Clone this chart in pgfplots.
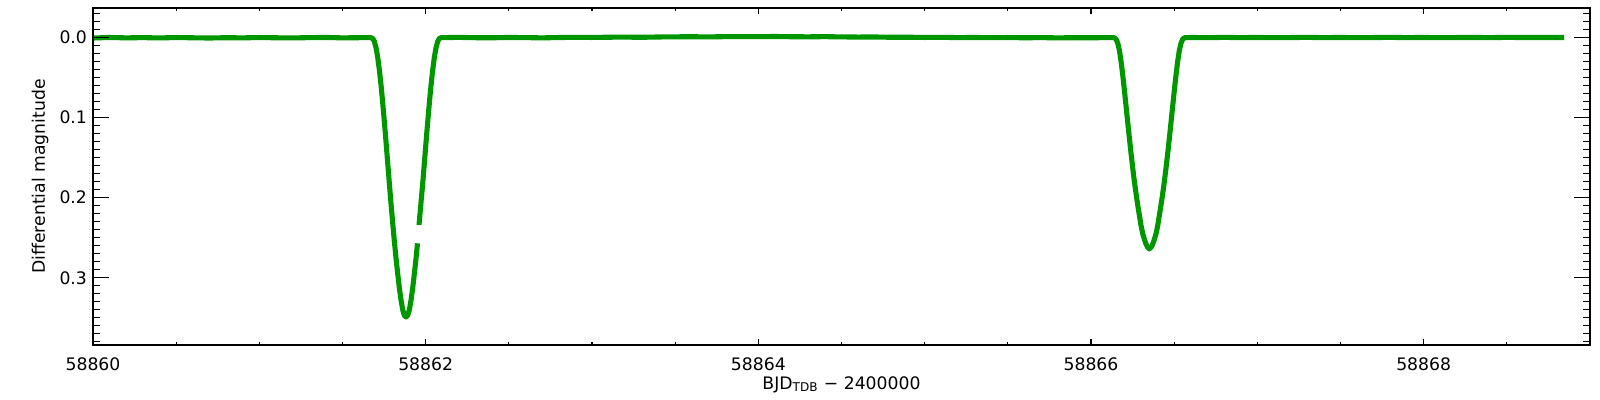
\documentclass[border=0pt]{standalone}
\usepackage{pgfplots}
\pgfplotsset{compat=1.18}
\usepackage{fontspec}
\setmainfont{DejaVu Sans}
\definecolor{lcgreen}{RGB}{0,150,0}
\begin{document}
\fontsize{9.8}{11.5}\selectfont
\begin{tikzpicture}
\useasboundingbox (-1.86cm,-1.1cm) rectangle (30.14cm,6.9cm);
\begin{axis}[
  at={(0,0)}, anchor=south west,
  scale only axis, width=29.94cm, height=6.74cm,
  xmin=0, xmax=9, ymin=-0.037, ymax=0.384,
  y dir=reverse,
  axis line style={line width=0.6pt},
  tick align=inside,
  every tick/.style={black, line width=0.6pt},
  xtick={0,2,4,6,8},
  xticklabels={58860,58862,58864,58866,58868},
  minor xtick={0.5,1,1.5,2.5,3,3.5,4.5,5,5.5,6.5,7,7.5,8.5},
  major tick length=0.12cm, minor tick length=0.06cm,
  ytick={0,0.1,0.2,0.3},
  ytick style={draw=none},
  yticklabel style={/pgf/number format/.cd, fixed, fixed zerofill, precision=1},
  /pgf/number format/assume math mode=true,
  xticklabel style={yshift=-3.5pt},
  tick label style={font=\fontsize{9.8}{11.5}\selectfont},
  xlabel={BJD\textsubscript{TDB} − 2400000},
  ylabel={Differential magnitude},
  xlabel style={at={(axis description cs:0.5,-0.1306)}, anchor=base, font=\fontsize{9.8}{11.5}\selectfont},
  ylabel style={at={(axis description cs:-0.0354,0.5)}, anchor=center, rotate=0, font=\fontsize{9.8}{11.5}\selectfont},
]
\addplot[lcgreen, line width=2.9pt, line join=round] coordinates {
(0.000,0.0005)(0.100,-0.0002)(0.200,0.0003)(0.300,0.0000)(0.400,0.0004)(0.500,-0.0001)(0.600,0.0002)(0.700,0.0005)(0.800,0.0001)(0.900,0.0003)(1.000,-0.0001)(1.100,0.0002)(1.200,0.0004)(1.300,0.0000)(1.400,-0.0002)(1.500,0.0003)(1.600,0.0001)(1.662,0.0000)(1.672,0.0002)(1.682,0.001)(1.692,0.005)(1.702,0.013)(1.712,0.025)(1.722,0.041)(1.732,0.060)(1.742,0.082)(1.752,0.106)(1.762,0.131)(1.772,0.157)(1.782,0.183)(1.792,0.208)(1.802,0.232)(1.812,0.255)(1.822,0.276)(1.832,0.295)(1.842,0.313)(1.852,0.328)(1.862,0.340)(1.872,0.347)(1.882,0.349)(1.892,0.347)(1.902,0.340)(1.912,0.328)(1.922,0.313)(1.932,0.295)(1.942,0.276)(1.951,0.257)
};
\addplot[lcgreen, line width=2.9pt, line join=round] coordinates {
(1.960,0.234)(1.972,0.206)(1.982,0.183)(1.992,0.157)(2.002,0.131)(2.012,0.106)(2.022,0.082)(2.032,0.060)(2.042,0.041)(2.052,0.025)(2.062,0.013)(2.072,0.005)(2.082,0.001)(2.092,0.0002)(2.102,0.0000)(2.200,-0.0003)(2.300,0.0001)(2.400,0.0002)(2.500,-0.0002)(2.600,0.0000)(2.700,0.0003)(2.800,-0.0001)(2.900,-0.0004)(3.000,-0.0002)(3.100,-0.0005)(3.200,-0.0006)(3.300,-0.0004)(3.400,-0.0008)(3.500,-0.0010)(3.600,-0.0011)(3.700,-0.0009)(3.800,-0.0012)(3.900,-0.0013)(4.000,-0.0012)(4.100,-0.0014)(4.200,-0.0011)(4.300,-0.0010)(4.400,-0.0012)(4.500,-0.0009)(4.600,-0.0007)(4.700,-0.0008)(4.800,-0.0004)(4.900,-0.0005)(5.000,-0.0002)(5.100,-0.0004)(5.200,0.0000)(5.300,-0.0002)(5.400,0.0001)(5.500,-0.0001)(5.600,0.0002)(5.700,0.0000)(5.800,0.0003)(5.900,0.0001)(6.000,0.0002)(6.100,0.0000)(6.131,0.0000)(6.141,0.0002)(6.151,0.002)(6.161,0.007)(6.171,0.016)(6.181,0.030)(6.191,0.047)(6.201,0.066)(6.211,0.086)(6.221,0.106)(6.231,0.126)(6.241,0.145)(6.251,0.163)(6.261,0.180)(6.271,0.195)(6.281,0.209)(6.291,0.222)(6.301,0.235)(6.311,0.245)(6.321,0.252)(6.331,0.258)(6.341,0.262)(6.351,0.264)(6.361,0.262)(6.371,0.258)(6.381,0.252)(6.391,0.245)(6.401,0.235)(6.411,0.222)(6.421,0.209)(6.431,0.195)(6.441,0.180)(6.451,0.163)(6.461,0.145)(6.471,0.126)(6.481,0.106)(6.491,0.086)(6.501,0.066)(6.511,0.047)(6.521,0.030)(6.531,0.016)(6.541,0.007)(6.551,0.002)(6.561,0.0002)(6.600,-0.0002)(6.700,0.0001)(6.800,-0.0003)(6.900,0.0000)(7.000,-0.0002)(7.100,0.0001)(7.200,-0.0001)(7.300,-0.0003)(7.400,0.0000)(7.500,-0.0002)(7.600,0.0001)(7.700,-0.0001)(7.800,-0.0003)(7.900,0.0000)(8.000,-0.0002)(8.100,0.0001)(8.200,-0.0001)(8.300,-0.0002)(8.400,0.0000)(8.500,-0.0003)(8.600,-0.0001)(8.700,-0.0002)(8.845,-0.0002)
};
\end{axis}
\begin{axis}[
  at={(0,0)}, anchor=south west,
  scale only axis, width=29.94cm, height=6.74cm,
  xmin=0, xmax=9, ymin=-0.037, ymax=0.384,
  y dir=reverse,
  hide x axis,
  axis line style={line width=0.6pt},
  tick align=inside,
  every tick/.style={black, line width=0.6pt},
  ytick={0,0.1,0.2,0.3},
  minor ytick={-0.03,-0.02,-0.01,0.01,0.02,0.03,0.04,0.05,0.06,0.07,0.08,0.09,0.11,0.12,0.13,0.14,0.15,0.16,0.17,0.18,0.19,0.21,0.22,0.23,0.24,0.25,0.26,0.27,0.28,0.29,0.31,0.32,0.33,0.34,0.35,0.36,0.37,0.38},
  yticklabels={},
  major tick length=0.32cm, minor tick length=0.14cm,
]
\end{axis}
\end{tikzpicture}
\end{document}
